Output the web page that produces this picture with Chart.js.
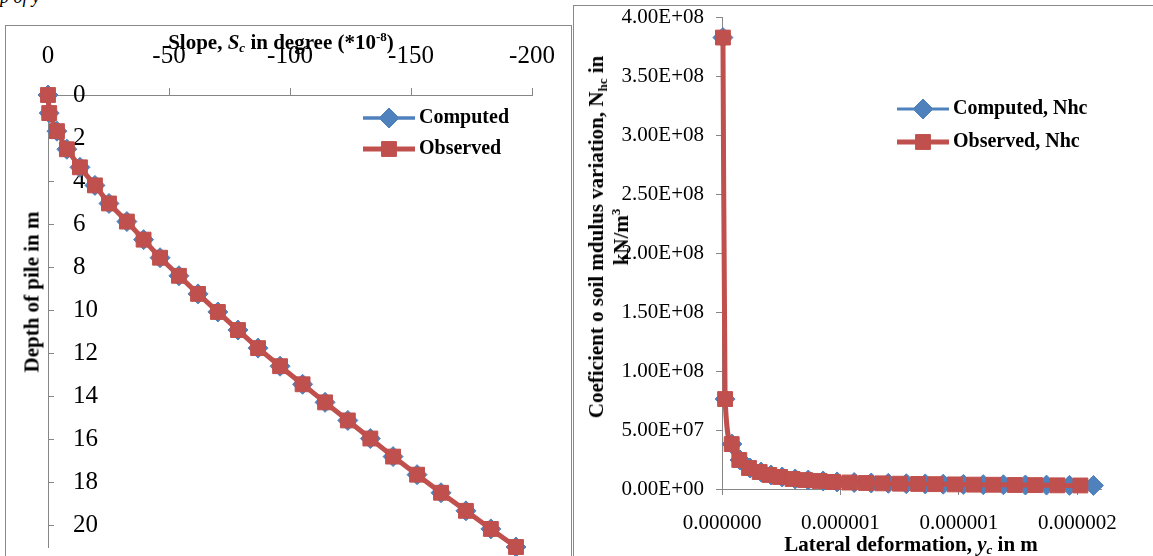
<!DOCTYPE html>
<html>
<head>
<meta charset="utf-8">
<title>Slope and soil modulus of pile</title>
<script src="https://cdn.jsdelivr.net/npm/chart.js@4.4.1/dist/chart.umd.min.js"></script>
<style>
    html, body { margin: 0; padding: 0; }
    body { width: 1153px; height: 556px; overflow: hidden; background: #fff; position: relative;
           font-family: "Liberation Serif", "Times New Roman", serif; color: #000; }
    .box { position: absolute; border: 1px solid #898989; background: #fff; overflow: hidden; }
    .box canvas { position: absolute; left: 0; top: 0; }
    .ttl { position: absolute; font-weight: bold; font-size: 21px; line-height: 25px; white-space: nowrap;
           text-align: center; transform: translate(-50%, -50%); z-index: 5; }
    .rot { transform: translate(-50%, -50%) rotate(-90deg); }
    sub { font-size: 0.62em; vertical-align: -0.3em; line-height: 0; }
    sup { font-size: 0.62em; vertical-align: 0.6em; line-height: 0; }
    #note { position: absolute; left: 0; top: -13px; font-style: italic; font-size: 18px; }
</style>
</head>
<body>
<div id="note">p of y</div>

<div class="box" style="left:5px; top:25px; width:565px; height:600px;">
    <canvas id="slopeChart" width="564" height="560"></canvas>
</div>
<div class="box" style="left:573px; top:5px; width:620px; height:600px;">
    <canvas id="nhcChart" width="580" height="550"></canvas>
</div>

<div class="ttl" style="left:281px; top:42px;">Slope, <i>S<sub>c</sub></i> in degree (*10<sup>-8</sup>)</div>
<div class="ttl rot" style="left:32px; top:292px;">Depth of pile in m</div>
<div class="ttl rot" style="left:609px; top:237px;">Coeficient o soil mdulus variation, N<sub>hc</sub> in<br>kN/m<sup>3</sup></div>
<div class="ttl" style="left:911px; top:544px;">Lateral deformation, <i>y<sub>c</sub></i> in m</div>

<script>
// #### LEFT CHART: SLOPE (x10^-8 degree) vs DEPTH (m) ####
const depthM = [0, 0.84, 1.68, 2.52, 3.36, 4.2, 5.04, 5.88, 6.72, 7.56, 8.4, 9.24, 10.08,
    10.92, 11.76, 12.6, 13.44, 14.28, 15.12, 15.96, 16.8, 17.64, 18.48, 19.32, 20.16, 21.0];
const slopeComputed = [0, -0.5, -3.7, -7.8, -13.2, -19.4, -25.2, -32.6, -39.5, -46.3, -54.1, -62.0, -70.2,
    -78.5, -86.8, -95.9, -105.2, -114.5, -123.9, -133.2, -142.6, -152.5, -162.4, -172.7, -183.0, -193.4];
const slopeObserved = [0, -0.5, -3.7, -7.8, -13.2, -19.4, -25.2, -32.6, -39.5, -46.3, -54.1, -62.0, -70.2,
    -78.5, -86.8, -95.9, -105.2, -114.5, -123.9, -133.2, -142.6, -152.5, -162.4, -172.7, -183.0, -193.4];
const slopeLegend = ["Computed", "Observed"];

// #### RIGHT CHART: Nhc (kN/m3) vs LATERAL DEFORMATION (m) ####
const defComputed = [0.004e-6, 0.013e-6, 0.042e-6, 0.076e-6, 0.118e-6, 0.165e-6, 0.207e-6, 0.254e-6,
    0.309e-6, 0.364e-6, 0.427e-6, 0.486e-6, 0.558e-6, 0.630e-6, 0.702e-6, 0.778e-6, 0.858e-6,
    0.934e-6, 1.019e-6, 1.103e-6, 1.188e-6, 1.281e-6, 1.370e-6, 1.467e-6, 1.568e-6];
const nhcComputed = [3.83e8, 7.63e7, 3.81e7, 2.46e7, 1.78e7, 1.44e7, 1.19e7, 1.02e7, 8.5e6, 7.6e6,
    6.8e6, 6.0e6, 5.5e6, 5.1e6, 4.8e6, 4.5e6, 4.3e6, 4.1e6, 3.9e6, 3.7e6, 3.6e6, 3.4e6, 3.3e6, 3.1e6, 3.0e6];
const defObserved = [0.004e-6, 0.013e-6, 0.041e-6, 0.073e-6, 0.114e-6, 0.159e-6, 0.200e-6, 0.245e-6,
    0.298e-6, 0.351e-6, 0.412e-6, 0.469e-6, 0.538e-6, 0.608e-6, 0.677e-6, 0.751e-6, 0.828e-6,
    0.901e-6, 0.983e-6, 1.064e-6, 1.146e-6, 1.236e-6, 1.322e-6, 1.416e-6, 1.513e-6];
const nhcObserved = [3.83e8, 7.63e7, 3.81e7, 2.46e7, 1.78e7, 1.44e7, 1.19e7, 1.02e7, 8.5e6, 7.6e6,
    6.8e6, 6.0e6, 5.5e6, 5.1e6, 4.8e6, 4.5e6, 4.3e6, 4.1e6, 3.9e6, 3.7e6, 3.6e6, 3.4e6, 3.3e6, 3.1e6, 3.0e6];
const nhcLegend = ["Computed, Nhc", "Observed, Nhc"];
const defTickLabels = ["0.000000", "0.000001", "0.000001", "0.000002"];

const BLUE = '#4F81BD';
const RED = '#C0504D';
const AXIS = '#868686';
const SERIF = '"Liberation Serif", "Times New Roman", serif';

let toPoints = (xs, ys) => xs.map((x, i) => ({x: x, y: ys[i]}));

// excel style 4.00E+08
let sciLabel = (v) => {
    let [m, e] = v.toExponential(2).split('e');
    let sign = e[0] === '-' ? '-' : '+';
    return m + 'E' + sign + e.replace(/^[+-]/, '').padStart(2, '0');
};

// pin the plot area: fixed axis box size, no extra label padding
let fixWidth = (w) => (s) => { s.width = w; s.paddingTop = 0; s.paddingBottom = 0; };
let fixHeight = (h) => (s) => { s.height = h; s.paddingLeft = 0; s.paddingRight = 0; };
// keep only ticks on the major step (drop the axis max)
let onStep = (step) => (s) => {
    s.ticks = s.ticks.filter(t => Math.abs(t.value / step - Math.round(t.value / step)) < 1e-6);
};

// legend sitting inside the plot area, like the excel one
const insideLegend = {
    id: 'insideLegend',
    afterDraw(chart, args, opts) {
        const ctx = chart.ctx;
        ctx.save();
        chart.data.datasets.forEach((ds, i) => {
            let y = opts.y + i * opts.dy;
            ctx.strokeStyle = ds.borderColor;
            ctx.lineWidth = ds.borderWidth;
            ctx.beginPath();
            ctx.moveTo(opts.x, y);
            ctx.lineTo(opts.x + opts.len, y);
            ctx.stroke();
            ctx.fillStyle = ds.pointBackgroundColor;
            ctx.strokeStyle = ds.pointBorderColor;
            ctx.lineWidth = ds.pointBorderWidth;
            Chart.helpers.drawPoint(ctx, {pointStyle: ds.pointStyle, radius: ds.pointRadius, rotation: 0,
                borderWidth: ds.pointBorderWidth}, opts.x + opts.len / 2, y);
            ctx.fillStyle = '#000';
            ctx.font = 'bold ' + opts.size + 'px ' + SERIF;
            ctx.textBaseline = 'middle';
            ctx.textAlign = 'left';
            ctx.fillText(ds.label, opts.x + opts.len + opts.gap, y);
        });
        ctx.restore();
    }
};

let series = (label, data, color, style, radius, width, order, smooth) => ({
    label: label, data: data, showLine: true, clip: false, order: order,
    borderColor: color, borderWidth: width,
    cubicInterpolationMode: smooth ? 'monotone' : 'default', tension: 0,
    pointStyle: style, pointRadius: radius, pointHoverRadius: radius,
    pointBackgroundColor: color, pointBorderColor: color, pointBorderWidth: 1
});

// #### SLOPE CHART ####
let slopeChart = new Chart(document.getElementById('slopeChart'), {
    type: 'scatter',
    data: {
        datasets: [
            series(slopeLegend[0], toPoints(slopeComputed, depthM), BLUE, 'rectRot', 10, 3.5, 2, false),
            series(slopeLegend[1], toPoints(slopeObserved, depthM), RED, 'rect', 10.5, 5, 1, false)
        ]
    },
    options: {
        responsive: false, animation: false, devicePixelRatio: 1,
        layout: {padding: {left: 0, right: 38, top: 0, bottom: 39}},
        plugins: {
            legend: {display: false}, tooltip: {enabled: false},
            insideLegend: {x: 357, y: 92, dy: 31, len: 52, gap: 4, size: 20}
        },
        scales: {
            x: {
                type: 'linear', position: 'top', min: -200, max: 0, reverse: true, bounds: 'data',
                afterBuildTicks: onStep(50),
                ticks: {stepSize: 50, includeBounds: false, padding: 17, color: '#000', font: {family: SERIF, size: 25}},
                grid: {drawOnChartArea: false, tickLength: 7, color: AXIS},
                border: {color: AXIS, width: 1},
                afterFit: fixHeight(69)
            },
            y: {
                type: 'linear', position: 'left', min: 0, max: 21, reverse: true, bounds: 'data',
                afterBuildTicks: onStep(2),
                ticks: {stepSize: 2, includeBounds: false, mirror: true, padding: 25, color: '#000', font: {family: SERIF, size: 25}},
                grid: {drawOnChartArea: false, tickLength: -6, color: AXIS},
                border: {color: AXIS, width: 1},
                afterFit: fixWidth(42)
            }
        }
    },
    plugins: [insideLegend]
});

// #### Nhc CHART ####
let nhcChart = new Chart(document.getElementById('nhcChart'), {
    type: 'scatter',
    data: {
        datasets: [
            series(nhcLegend[0], toPoints(defComputed, nhcComputed), BLUE, 'rectRot', 10, 3, 2, true),
            series(nhcLegend[1], toPoints(defObserved, nhcObserved), RED, 'rect', 10.5, 5, 1, true)
        ]
    },
    options: {
        responsive: false, animation: false, devicePixelRatio: 1,
        layout: {padding: {left: 0, right: 53, top: 11, bottom: 0}},
        plugins: {
            legend: {display: false}, tooltip: {enabled: false},
            insideLegend: {x: 323, y: 103, dy: 33, len: 52, gap: 4, size: 20}
        },
        scales: {
            x: {
                type: 'linear', position: 'bottom', min: 0, max: 1.6e-6, bounds: 'data',
                afterBuildTicks: onStep(5e-7),
                ticks: {stepSize: 5e-7, includeBounds: false, padding: 16, color: '#000',
                    font: {family: SERIF, size: 21}, callback: (v, i) => defTickLabels[i]},
                grid: {drawOnChartArea: false, tickLength: 6, color: AXIS},
                border: {color: AXIS, width: 1},
                afterFit: fixHeight(67)
            },
            y: {
                type: 'linear', position: 'left', min: 0, max: 4e8, bounds: 'data',
                afterBuildTicks: onStep(5e7),
                ticks: {stepSize: 5e7, includeBounds: false, padding: 12, color: '#000',
                    font: {family: SERIF, size: 21, lineHeight: 1}, callback: (v) => sciLabel(v)},
                grid: {drawOnChartArea: false, tickLength: 6, color: AXIS},
                border: {color: AXIS, width: 1},
                afterFit: fixWidth(148)
            }
        }
    },
    plugins: [insideLegend]
});
</script>
</body>
</html>
